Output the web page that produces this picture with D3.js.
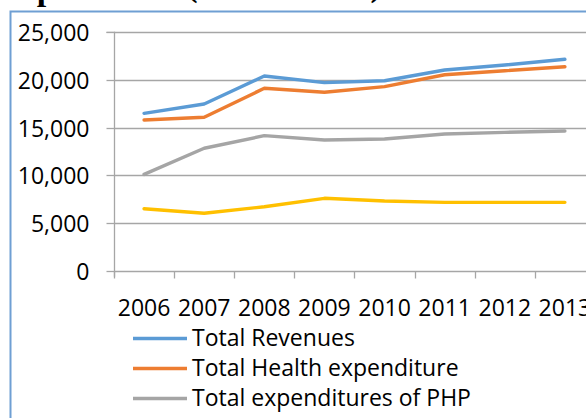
<!DOCTYPE html>
<html>
<head>
<meta charset="utf-8">
<script src="https://cdn.jsdelivr.net/npm/d3@7/dist/d3.min.js"></script>
<style>
  html, body { margin: 0; padding: 0; background: #fff; }
  svg { display: block; }
</style>
</head>
<body>
<svg id="chart" width="586" height="418"></svg>
<script>
// Years on the category axis
const years = ["2006", "2007", "2008", "2009", "2010", "2011", "2012", "2013"];

// Series names (legend order)
const seriesNames = [
  "Total Revenues",
  "Total Health expenditure",
  "Total expenditures of PHP",
  "Total expenditures of PHC"
];

// Series values, one array per series
const totalRevenues   = [16500, 17480, 20420, 19720, 19920, 21050, 21570, 22170];
const healthExpend    = [15800, 16090, 19130, 18710, 19300, 20550, 20970, 21390];
const phpExpend       = [10100, 12840, 14160, 13710, 13810, 14340, 14510, 14650];
const phcExpend       = [6500, 6020, 6710, 7590, 7310, 7170, 7170, 7170];

// Value-axis tick values
const yTicks = [0, 5000, 10000, 15000, 20000, 25000];

const colors = ["#5B9BD5", "#ED7D31", "#A5A5A5", "#FFC000"];
const seriesValues = [totalRevenues, healthExpend, phpExpend, phcExpend];

const font = "'Open Sans', Lato, sans-serif";
const fontSize = 23;
const svg = d3.select("#chart");

// Heading of the surrounding document, sitting above the frame
const heading = svg.append("text")
  .attr("x", -3)
  .attr("y", -0.5)
  .attr("font-family", "'Liberation Serif', serif")
  .attr("font-weight", "bold")
  .attr("font-size", 34)
  .attr("fill", "#000");
heading.append("tspan").text("Expenditure ");
heading.append("tspan").attr("dy", -4).text("(in mil. EUR)");

// Chart frame
svg.append("path")
  .attr("d", "M10.5,430 V11.5 H600")
  .attr("fill", "none")
  .attr("stroke", "#6F9FD3")
  .attr("stroke-width", 2);

const plot = { left: 114, top: 32.3, bottom: 270.7 };
const band = 60.12;

const x = d3.scaleBand()
  .domain(years)
  .range([plot.left, plot.left + band * years.length])
  .padding(0);

const y = d3.scaleLinear()
  .domain([0, 25000])
  .range([plot.bottom, plot.top]);

// Horizontal gridlines
svg.append("g")
  .selectAll("line")
  .data(yTicks.slice(1))
  .join("line")
  .attr("x1", plot.left).attr("x2", 600)
  .attr("y1", d => Math.round(y(d)) + 0.5)
  .attr("y2", d => Math.round(y(d)) + 0.5)
  .attr("stroke", "#A6A6A6")
  .attr("stroke-width", 1.3);

// Value axis
const yAxis = d3.axisLeft(y)
  .tickValues(yTicks)
  .tickSize(8)
  .tickPadding(17)
  .tickFormat(d3.format(","));

const gy = svg.append("g")
  .attr("transform", `translate(${plot.left + 0.5},0)`)
  .call(yAxis);
gy.select(".domain").attr("stroke", "#A6A6A6").attr("stroke-width", 1.3)
  .attr("d", `M-8,${plot.top}H0V${plot.bottom + 6}`);
gy.selectAll(".tick line").attr("stroke", "#A6A6A6").attr("stroke-width", 1.3);
gy.selectAll(".tick text")
  .attr("font-family", font)
  .attr("font-size", fontSize)
  .attr("dy", "0.36em")
  .attr("fill", "#000");
gy.selectAll(".tick").attr("transform", d => `translate(0,${Math.round(y(d)) + 0.5})`);

// Category axis
const xAxis = d3.axisBottom(x)
  .tickSize(0);

const gx = svg.append("g")
  .attr("transform", `translate(0,${Math.round(plot.bottom) + 0.5})`)
  .call(xAxis);
gx.select(".domain").attr("stroke", "#A6A6A6").attr("stroke-width", 1.3)
  .attr("d", `M${plot.left},0H600`);
gx.selectAll(".tick text")
  .attr("font-family", font)
  .attr("font-size", fontSize)
  .attr("y", 44)
  .attr("dy", 0)
  .attr("fill", "#000");

// Category boundary tick marks
gx.append("g")
  .selectAll("line")
  .data(years.concat(["end"]))
  .join("line")
  .attr("x1", (d, i) => Math.round(plot.left + band * i) + 0.5)
  .attr("x2", (d, i) => Math.round(plot.left + band * i) + 0.5)
  .attr("y1", 0).attr("y2", 7)
  .attr("stroke", "#A6A6A6")
  .attr("stroke-width", 1.3);

// Series lines
const line = d3.line()
  .x((d, i) => x(years[i]) + x.bandwidth() / 2)
  .y(d => y(d));

svg.append("g")
  .selectAll("path")
  .data(seriesValues)
  .join("path")
  .attr("d", d => line(d))
  .attr("fill", "none")
  .attr("stroke", (d, i) => colors[i])
  .attr("stroke-width", 3.4)
  .attr("stroke-linejoin", "round")
  .attr("stroke-linecap", "round");

// Legend
const legend = svg.append("g").attr("transform", "translate(133,0)");
const rowY = d3.scaleLinear().domain([0, 1]).range([338.5, 368.5]);
const items = legend.selectAll("g")
  .data(seriesNames)
  .join("g")
  .attr("transform", (d, i) => `translate(0,${rowY(i)})`);
items.append("line")
  .attr("x1", 0).attr("x2", 54)
  .attr("y1", 0).attr("y2", 0)
  .attr("stroke", (d, i) => colors[i])
  .attr("stroke-width", 3.4);
items.append("text")
  .attr("x", 59)
  .attr("y", 7)
  .attr("font-family", font)
  .attr("font-size", fontSize)
  .attr("fill", "#000")
  .text(d => d);
</script>
</body>
</html>
